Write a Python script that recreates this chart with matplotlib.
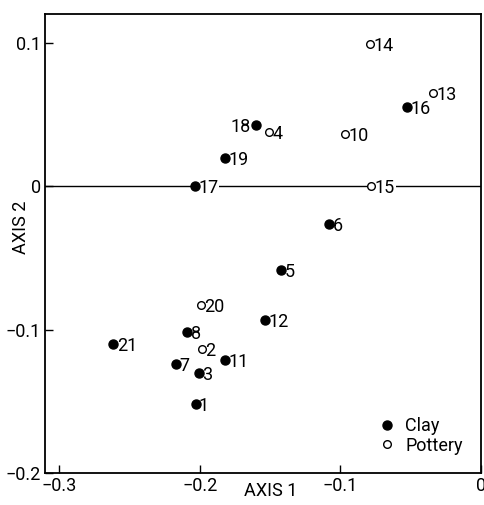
import matplotlib
matplotlib.use("Agg")
import matplotlib.pyplot as plt
from matplotlib.lines import Line2D

# sample scores on the first two axes
clay_ids = ['1', '3', '5', '6', '7', '8', '11', '12', '16', '17', '18', '19', '21']
clay_x = [-0.203, -0.2005, -0.142, -0.108, -0.217, -0.209, -0.182, -0.1535, -0.0527, -0.2036, -0.160, -0.182, -0.2615]
clay_y = [-0.1516, -0.130, -0.0587, -0.0267, -0.1238, -0.1017, -0.121, -0.0936, 0.055, 0.0, 0.0423, 0.0198, -0.110]

pot_ids = ['2', '4', '10', '13', '14', '15', '20']
pot_x = [-0.1984, -0.151, -0.0966, -0.0342, -0.0787, -0.078, -0.199]
pot_y = [-0.1133, 0.0376, 0.0365, 0.0648, 0.0993, 0.0, -0.0831]

# labels placed on the left of the point
left_ids = ['18']

xticks = [-0.3, -0.2, -0.1, 0.0]
xticklabels = ['\u22120.3', '\u22120.2', '\u22120.1', '0']
yticks = [-0.2, -0.1, 0.0, 0.1]
yticklabels = ['\u22120.2', '\u22120.1', '0', '0.1']

plt.rcParams['font.family'] = ['Roboto', 'DejaVu Sans']
FS = 13

fig = plt.figure(figsize=(4.85, 5.05), dpi=100)
ax = fig.add_axes([0.0928, 0.0634, 0.899, 0.9089])

ax.axhline(0, color='black', lw=1.0, zorder=1)

ax.plot(clay_x, clay_y, 'o', color='black', ms=6.5, ls='', zorder=3)
ax.plot(pot_x, pot_y, 'o', mfc='white', mec='black', mew=1.0, ms=5.5, ls='', zorder=3)

def put_labels(xs, ys, ids):
    for x, y, s in zip(xs, ys, ids):
        if s in left_ids:
            ax.annotate(s, (x, y), xytext=(-4, -1), textcoords='offset points',
                        ha='right', va='center', fontsize=FS,
                        bbox=dict(fc='white', ec='none', pad=0.5), zorder=2)
        else:
            ax.annotate(s, (x, y), xytext=(2.5, -1.5), textcoords='offset points',
                        ha='left', va='center', fontsize=FS,
                        bbox=dict(fc='white', ec='none', pad=0.5), zorder=2)

put_labels(clay_x, clay_y, clay_ids)
put_labels(pot_x, pot_y, pot_ids)

ax.set_xlim(-0.31, 0.0)
ax.set_ylim(-0.2, 0.12)
ax.set_xticks(xticks)
ax.set_xticklabels(xticklabels)
ax.set_yticks(yticks)
ax.set_yticklabels(yticklabels)
ax.tick_params(direction='in', length=6, width=1.0, labelsize=FS, pad=3)
for sp in ax.spines.values():
    sp.set_linewidth(1.3)

ax.set_xlabel('AXIS 1', fontsize=FS, va='center')
ax.xaxis.set_label_coords(0.518, -0.039)
ax.set_ylabel('AXIS 2', fontsize=FS, va='center')
ax.yaxis.set_label_coords(-0.055, 0.536)

handles = [Line2D([], [], marker='o', ls='', color='black', ms=6.5),
           Line2D([], [], marker='o', ls='', mfc='white', mec='black', mew=1.0, ms=5.5)]
ax.legend(handles, ['Clay', 'Pottery'], loc='lower right', bbox_to_anchor=(0.979, 0.02),
          frameon=False, fontsize=FS, borderpad=0, handlelength=1.0,
          handletextpad=0.5, labelspacing=0.1)

fig.savefig('out.png', dpi=100)
